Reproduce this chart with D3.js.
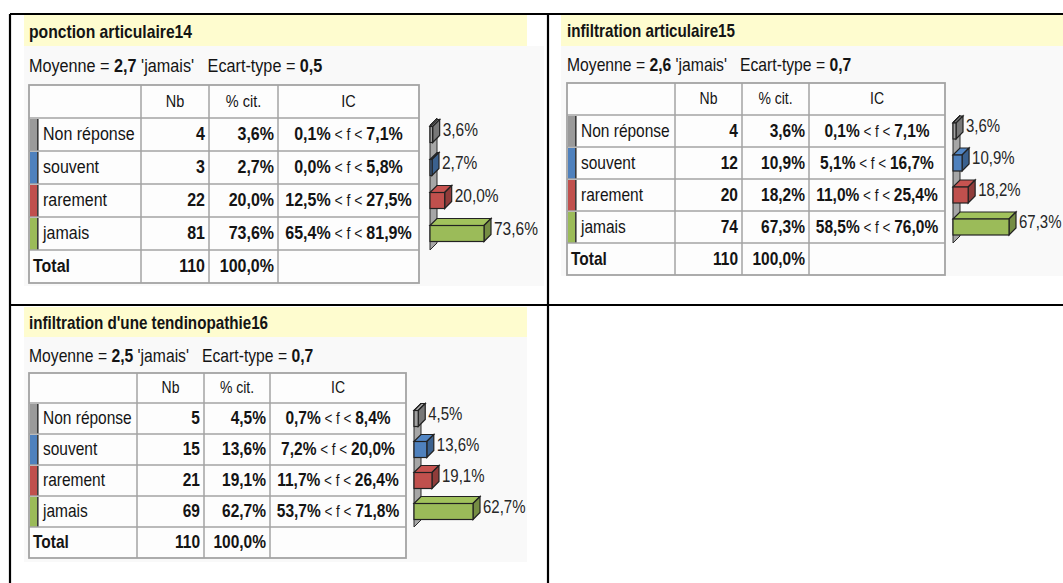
<!DOCTYPE html>
<html>
<head>
<meta charset="utf-8">
<script src="https://cdn.jsdelivr.net/npm/d3@7"></script>
<style>
	html, body { margin: 0; padding: 0; background: #fff; }
	svg { display: block; font-family: "Liberation Sans", Arial, sans-serif; }
	text { white-space: pre; }
</style>
</head>
<body>
<div id="chart"></div>
<script>
// --- data ---
const categories = ["Non réponse", "souvent", "rarement", "jamais"];
const catColors = ["#9a9a9a", "#4f81bd", "#c0504d", "#9bbb59"];
const headers = ["", "Nb", "% cit.", "IC"];

const titles = ["ponction articulaire14", "infiltration articulaire15", "infiltration d'une tendinopathie16"];
const moyennes = ["2,7", "2,6", "2,5"];
const ecarts = ["0,5", "0,7", "0,7"];
const totalNb = [110, 110, 110];
const totalPct = [100, 100, 100];

const nb1 = [4, 3, 22, 81];
const pct1 = [3.6, 2.7, 20.0, 73.6];
const ic1 = [[0.1, 7.1], [0.0, 5.8], [12.5, 27.5], [65.4, 81.9]];

const nb2 = [4, 12, 20, 74];
const pct2 = [3.6, 10.9, 18.2, 67.3];
const ic2 = [[0.1, 7.1], [5.1, 16.7], [11.0, 25.4], [58.5, 76.0]];

const nb3 = [5, 15, 21, 69];
const pct3 = [4.5, 13.6, 19.1, 62.7];
const ic3 = [[0.7, 8.4], [7.2, 20.0], [11.7, 26.4], [53.7, 71.8]];

const W = 1063, H = 583;
const fr = d3.formatLocale({ decimal: ",", thousands: " ", grouping: [3], currency: ["", "€"] });
const f1 = fr.format(".1f");

// layout of the three blocks
const panels = [
	{ i: 0, nb: nb1, pct: pct1, ic: ic1, x: 24, y: 15, w: 503, titleH: 31, bgW: 520, bgH: 240,
	  tx: 29, titleBase: 38, moyBase: 72, tableY: 85, cols: [112, 68, 69, 141], headH: 33, rowH: 33,
	  wallX: 430, barMax: 54, fs: 16 },
	{ i: 1, nb: nb2, pct: pct2, ic: ic2, x: 561, y: 15, w: 502, titleH: 31, bgW: 502, bgH: 230,
	  tx: 567, titleBase: 37, moyBase: 71, tableY: 83, cols: [108, 67, 67, 136], headH: 32, rowH: 32,
	  wallX: 953, barMax: 56, fs: 15.5 },
	{ i: 2, nb: nb3, pct: pct3, ic: ic3, x: 24, y: 307, w: 503, titleH: 30, bgW: 503, bgH: 225,
	  tx: 29, titleBase: 329, moyBase: 362, tableY: 373, cols: [108, 67, 66, 136], headH: 30, rowH: 31,
	  wallX: 414, barMax: 59, fs: 15.5 }
];

const SY = 1.17; // the source text is stretched vertically
const svg = d3.select("#chart").append("svg")
	.attr("width", W).attr("height", H)
	.attr("viewBox", `0 0 ${W} ${H}`);

const txt = (g, x, y, fs, anchor = "start") => g.append("text")
	.attr("transform", `translate(${x},${y}) scale(1,${SY})`)
	.attr("font-size", fs)
	.attr("text-anchor", anchor)
	.attr("fill", "#141414");

const drawPanel = (p) => {
	const g = svg.append("g");
	// backgrounds
	g.append("rect").attr("x", p.x).attr("y", p.y + p.titleH)
		.attr("width", p.bgW).attr("height", p.bgH).attr("fill", "#f9f9f9");
	g.append("rect").attr("x", p.x).attr("y", p.y)
		.attr("width", p.w).attr("height", p.titleH).attr("fill", "#fefccf");

	txt(g, p.tx, p.titleBase, p.fs - 0.3).attr("font-weight", "bold").text(titles[p.i]);

	const m = txt(g, p.tx, p.moyBase, p.fs + 0.2);
	m.append("tspan").text("Moyenne = ");
	m.append("tspan").attr("font-weight", "bold").text(moyennes[p.i]);
	m.append("tspan").text(" 'jamais'   Ecart-type = ");
	m.append("tspan").attr("font-weight", "bold").text(ecarts[p.i]);

	// table
	const colX = [p.tx];
	p.cols.forEach(c => colX.push(colX[colX.length - 1] + c));
	const tableW = colX[4] - colX[0];
	const y = d3.scaleBand().domain(categories)
		.range([p.tableY + p.headH, p.tableY + p.headH + categories.length * p.rowH]);
	const totalY = y.range()[1];
	const tableH = p.headH + (categories.length + 1) * p.rowH;

	g.append("rect").attr("x", colX[0]).attr("y", p.tableY)
		.attr("width", tableW).attr("height", tableH).attr("fill", "#fdfdfd");

	// colour strips
	categories.forEach((c, k) => {
		g.append("rect").attr("x", colX[0] + 1).attr("y", y(c) + 1)
			.attr("width", 7).attr("height", y.bandwidth() - 1).attr("fill", catColors[k]);
		g.append("rect").attr("x", colX[0] + 8).attr("y", y(c) + 1)
			.attr("width", 1.6).attr("height", y.bandwidth() - 1).attr("fill", "#3a3a3a");
	});

	// grid
	const gridC = "#a3a3a3";
	[p.tableY + p.headH, ...categories.map(c => y(c) + y.bandwidth())].forEach(yy => {
		g.append("line").attr("x1", colX[0]).attr("x2", colX[4]).attr("y1", yy).attr("y2", yy)
			.attr("stroke", gridC).attr("stroke-width", 1.5);
	});
	colX.slice(1, 4).forEach(xx => {
		g.append("line").attr("x1", xx).attr("x2", xx).attr("y1", p.tableY).attr("y2", p.tableY + tableH)
			.attr("stroke", gridC).attr("stroke-width", 1.5);
	});
	g.append("rect").attr("x", colX[0]).attr("y", p.tableY)
		.attr("width", tableW).attr("height", tableH)
		.attr("fill", "none").attr("stroke", gridC).attr("stroke-width", 1.8);

	const fs = p.fs;
	const hb = p.tableY + p.headH / 2 + 5;
	txt(g, (colX[1] + colX[2]) / 2, hb, fs - 1.5, "middle").text(headers[1]);
	txt(g, (colX[2] + colX[3]) / 2, hb, fs - 1.5, "middle").text(headers[2]);
	txt(g, (colX[3] + colX[4]) / 2, hb, fs - 1.5, "middle").text(headers[3]);

	categories.forEach((c, k) => {
		const b = y(c) + y.bandwidth() / 2 + 5.5;
		txt(g, colX[0] + 14, b, fs).text(c);
		txt(g, colX[2] - 4, b, fs, "end").attr("font-weight", "bold").text(p.nb[k]);
		txt(g, colX[3] - 4, b, fs, "end").attr("font-weight", "bold").text(f1(p.pct[k]) + "%");
		const t = txt(g, (colX[3] + colX[4]) / 2, b, fs, "middle");
		t.append("tspan").attr("font-weight", "bold").text(f1(p.ic[k][0]) + "%");
		t.append("tspan").attr("font-size", fs - 2).text(" < f < ");
		t.append("tspan").attr("font-weight", "bold").text(f1(p.ic[k][1]) + "%");
	});
	const tb = totalY + p.rowH / 2 + 5.5;
	txt(g, colX[0] + 4, tb, fs).attr("font-weight", "bold").text("Total");
	txt(g, colX[2] - 4, tb, fs, "end").attr("font-weight", "bold").text(totalNb[p.i]);
	txt(g, colX[3] - 4, tb, fs, "end").attr("font-weight", "bold").text(f1(totalPct[p.i]) + "%");

	// 3D bar chart
	const x = d3.scaleLinear().domain([0, d3.max(p.pct)]).range([p.wallX, p.wallX + p.barMax]);
	const dx = 7, dy = 7, bh = 16;
	const y0 = y.range()[0], y1 = y.range()[1];
	g.append("path")
		.attr("d", `M${x(0)},${y0 + dy}L${x(0) + dx},${y0}L${x(0) + dx},${y1 - dy}L${x(0)},${y1}Z`)
		.attr("fill", "#a6a6a6").attr("stroke", "#2b2b2b").attr("stroke-width", 1);

	const shade = (c, k) => d3.color(c).darker(k).formatHex();
	categories.forEach((c, k) => {
		const cy = y(c) + y.bandwidth() / 2;
		const a = x(0), e = x(p.pct[k]), top = cy - bh / 2, bot = cy + bh / 2;
		const col = catColors[k] === "#9a9a9a" ? "#a0a0a0" : catColors[k];
		g.append("path")
			.attr("d", `M${a},${top}L${a + dx},${top - dy}L${e + dx},${top - dy}L${e},${top}Z`)
			.attr("fill", shade(col, -0.1)).attr("stroke", "#222").attr("stroke-width", 1.2);
		g.append("path")
			.attr("d", `M${e},${top}L${e + dx},${top - dy}L${e + dx},${bot - dy}L${e},${bot}Z`)
			.attr("fill", shade(col, 0.8)).attr("stroke", "#222").attr("stroke-width", 1.2);
		g.append("rect").attr("x", a).attr("y", top).attr("width", e - a).attr("height", bh)
			.attr("fill", col).attr("stroke", "#222").attr("stroke-width", 1.2);
		txt(g, e + dx + 3, cy + 1, fs - 0.5).attr("fill", "#262626").text(f1(p.pct[k]) + "%");
	});
};

panels.forEach(drawPanel);

// outer frame
const frame = [
	[10, 14, W, 14], [10, 14, 10, H], [548, 14, 548, H], [10, 305, W, 305]
];
svg.append("g").selectAll("line").data(frame).join("line")
	.attr("x1", d => d[0]).attr("y1", d => d[1]).attr("x2", d => d[2]).attr("y2", d => d[3])
	.attr("stroke", "#000").attr("stroke-width", 2.2);
</script>
</body>
</html>
